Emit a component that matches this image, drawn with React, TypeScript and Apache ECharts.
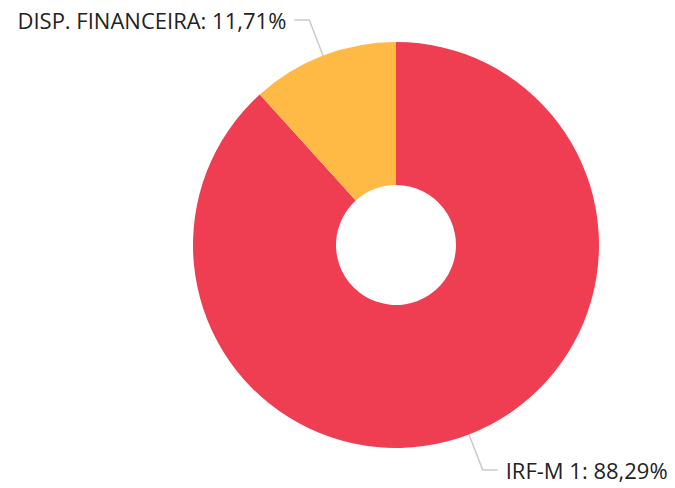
import React, { useEffect, useRef } from "react";
import * as echarts from "echarts";

const categories = ["IRF-M 1", "DISP. FINANCEIRA"];
const values = [88.29, 11.71];
const colors = ["#EF3D51", "#FFBA46"];

export default function App() {
  const ref = useRef<HTMLDivElement>(null);
  useEffect(() => {
    if (!ref.current) return;
    const chart = echarts.init(ref.current, null, { renderer: "svg" });
    chart.setOption({
      animation: false,
      backgroundColor: "#ffffff",
      series: [
        {
          type: "pie",
          center: [396, 245],
          radius: [60, 203],
          startAngle: 90,
          clockwise: true,
          avoidLabelOverlap: false,
          data: categories.map((c, i) => ({
            name: c,
            value: values[i],
            itemStyle: { color: colors[i] },
          })),
          label: {
            show: true,
            formatter: (p: any) => `${p.name}: ${p.value.toFixed(2).replace(".", ",")}%`,
            fontFamily: "Open Sans",
            fontSize: 22,
            color: "#222222",
            distanceToLabelLine: 8,
          },
          labelLine: {
            show: true,
            length: 38,
            length2: 15,
            lineStyle: { color: "#cccccc", width: 1.5 },
          },
          emphasis: { disabled: true },
        },
      ],
    });
    return () => chart.dispose();
  }, []);
  return (
    <div
      ref={ref}
      style={{ position: "absolute", left: 0, top: 0, width: 675, height: 488 }}
    />
  );
}
